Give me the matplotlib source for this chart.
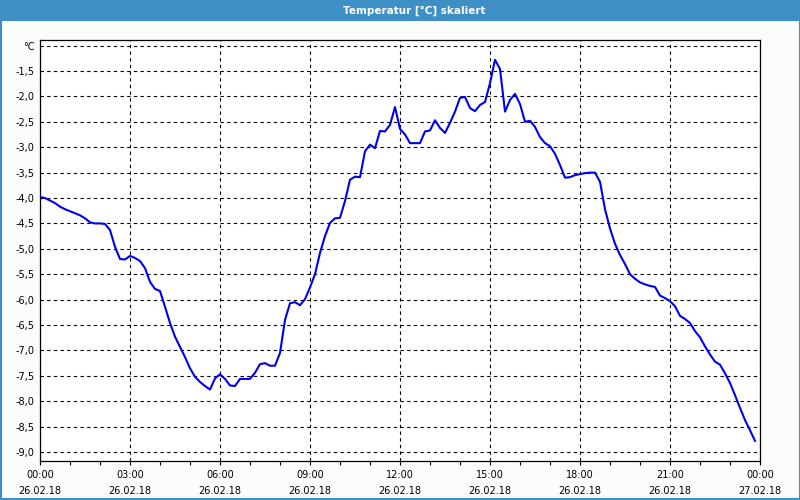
import matplotlib
matplotlib.use("Agg")
from matplotlib import pyplot as plt
from matplotlib.patches import Rectangle
import matplotlib.dates as mdates
import numpy as np
import pandas as pd

# Data: temperature every 10 minutes, 26.02.18 00:00 .. 23:50
temps = [
    -3.98, -4.00, -4.05, -4.10, -4.17, -4.22, -4.26, -4.30, -4.34, -4.40,
    -4.48, -4.50, -4.50, -4.51, -4.63, -4.96, -5.20, -5.21, -5.14, -5.18,
    -5.24, -5.38, -5.65, -5.79, -5.83, -6.14, -6.46, -6.73, -6.93, -7.13,
    -7.35, -7.52, -7.62, -7.70, -7.77, -7.55, -7.47, -7.56, -7.69, -7.70,
    -7.56, -7.56, -7.56, -7.44, -7.27, -7.25, -7.30, -7.30, -7.05, -6.40,
    -6.07, -6.05, -6.11, -5.99, -5.76, -5.50, -5.08, -4.75, -4.49, -4.40,
    -4.39, -4.06, -3.64, -3.58, -3.59, -3.08, -2.95, -3.02, -2.68, -2.69,
    -2.56, -2.21, -2.64, -2.75, -2.92, -2.92, -2.92, -2.69, -2.67, -2.47,
    -2.62, -2.72, -2.52, -2.30, -2.03, -2.01, -2.23, -2.29, -2.17, -2.11,
    -1.74, -1.28, -1.46, -2.30, -2.07, -1.95, -2.15, -2.50, -2.48, -2.60,
    -2.80, -2.92, -2.98, -3.13, -3.35, -3.60, -3.59, -3.55, -3.53, -3.51,
    -3.50, -3.50, -3.68, -4.22, -4.60, -4.90, -5.12, -5.30, -5.50, -5.59,
    -5.66, -5.70, -5.73, -5.75, -5.92, -5.97, -6.03, -6.13, -6.32, -6.38,
    -6.46, -6.62, -6.74, -6.92, -7.08, -7.22, -7.28, -7.45, -7.64, -7.88,
    -8.13, -8.37, -8.57, -8.78,
]
times = pd.date_range("2018-02-26 00:00", periods=len(temps), freq="10min")

ytick_vals = [-9.0, -8.5, -8.0, -7.5, -7.0, -6.5, -6.0, -5.5, -5.0, -4.5,
              -4.0, -3.5, -3.0, -2.5, -2.0, -1.5, -1.0]
ytick_labels = ["-9,0", "-8,5", "-8,0", "-7,5", "-7,0", "-6,5", "-6,0", "-5,5",
                "-5,0", "-4,5", "-4,0", "-3,5", "-3,0", "-2,5", "-2,0", "-1,5", "°C"]
title = "Temperatur [°C] skaliert"

bar_color = "#3D8FC6"

fig = plt.figure(figsize=(8, 5), dpi=100, facecolor="#FBFDFB")

# title bar and window border
fig.patches.append(Rectangle((0, 1 - 21 / 500), 1, 21 / 500, transform=fig.transFigure,
                             facecolor=bar_color, edgecolor="none", zorder=0))
fig.patches.append(Rectangle((0.5 / 800, 1.5 / 500), 1 - 1 / 800, 1 - 2 / 500,
                             transform=fig.transFigure, facecolor="none",
                             edgecolor=bar_color, linewidth=1.5, zorder=1))
fig.text(414 / 800, 1 - 10.5 / 500, title, color="white", fontsize=7.5,
         fontweight="bold", ha="center", va="center")

ax = fig.add_axes([40 / 800, 39.3 / 500, 720 / 800, 420.7 / 500])
ax.set_facecolor("white")
ax.plot(times, temps, color="#0000F0", linewidth=1.5, zorder=3)

start = pd.Timestamp("2018-02-26 00:00")
ax.set_xlim(start, start + pd.Timedelta(hours=24))
ax.set_ylim(-9.17, -0.89)

major = [start + pd.Timedelta(hours=h) for h in range(0, 25, 3)]
minor = [start + pd.Timedelta(hours=h) for h in range(0, 25)]
ax.set_xticks(major)
ax.set_xticks(minor, minor=True)
ax.xaxis.set_major_formatter(mdates.DateFormatter("%H:%M\n%d.%m.%y"))
ax.set_yticks(ytick_vals, ytick_labels)

ax.tick_params(axis="x", which="both", direction="out", length=3, width=0.8,
               labelsize=7, pad=4, colors="black")
ax.tick_params(axis="y", length=0, labelsize=7, pad=4)
for lbl in ax.get_xticklabels():
    lbl.set_linespacing(1.7)

ax.grid(True, which="major", color="black", linestyle=(0, (3, 3)), linewidth=0.8)
for s in ax.spines.values():
    s.set_color("black")
    s.set_linewidth(0.9)

fig.savefig("out.png", dpi=100, facecolor=fig.get_facecolor())
